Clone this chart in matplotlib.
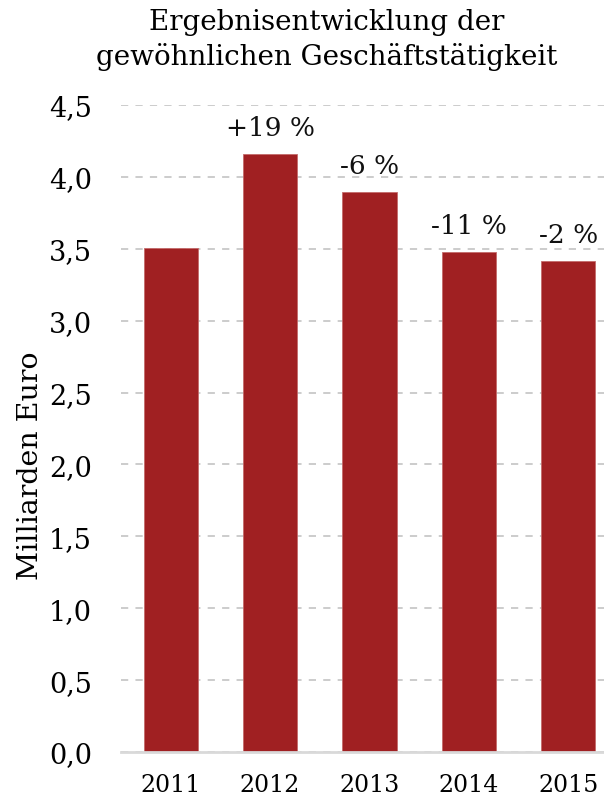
import matplotlib.pyplot as plt

# Werte (Milliarden Euro)
years = ['2011', '2012', '2013', '2014', '2015']
values = [3.505, 4.16, 3.895, 3.475, 3.415]
changes = ['', '+19 %', '-6 %', '-11 %', '-2 %']
yticks = [0.0, 0.5, 1.0, 1.5, 2.0, 2.5, 3.0, 3.5, 4.0, 4.5]

plt.rcParams['font.family'] = ['DejaVu Serif']

W, H = 604, 803
fig = plt.figure(figsize=(W / 100, H / 100), dpi=100)
ax = fig.add_axes([121 / W, (H - 753) / H, (604 - 121) / W, (753 - 106) / H])

x = range(len(years))
ax.bar(x, values, width=0.545, color='#a02022', edgecolor='#c46a6a', linewidth=0.6, zorder=3)

for i, lab in enumerate(changes):
    if lab:
        ax.annotate(lab, (i, values[i]), xytext=(0, 10), textcoords='offset points',
                    ha='center', va='bottom', fontsize=19, color='#111111')

ax.set_xlim(-0.5, 4.36)
ax.set_ylim(0, 4.5)
ax.set_xticks(list(x))
ax.set_xticklabels(years, fontsize=17)
ax.set_yticks(yticks)
ax.set_yticklabels([f'{t:.1f}'.replace('.', ',') for t in yticks], fontsize=19.5)
ax.tick_params(axis='x', length=0, pad=15)
ax.tick_params(axis='y', length=0, pad=21)

ax.yaxis.grid(True, color='#c8c8c8', linestyle=(0, (4, 4)), linewidth=1.3, zorder=0)
ax.set_axisbelow(True)
for s in ['top', 'right', 'left']:
    ax.spines[s].set_visible(False)
ax.spines['bottom'].set_color('#d9d9d9')
ax.spines['bottom'].set_linewidth(2)
ax.spines['bottom'].set_zorder(4)

fig.text(31 / W, 1 - 466 / H, 'Milliarden Euro', rotation=90, ha='center', va='center', fontsize=20.5)
fig.text(327 / W, 1 - 40 / H, 'Ergebnisentwicklung der\ngewöhnlichen Geschäftstätigkeit',
         ha='center', va='center', fontsize=20, linespacing=1.3)

fig.savefig('out.png', dpi=100)
